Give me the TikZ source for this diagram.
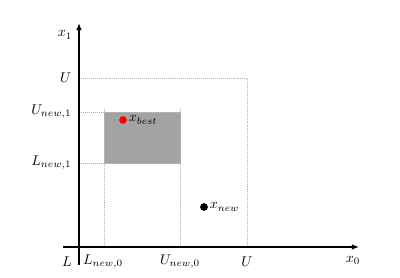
\documentclass[tikz,border=0pt]{standalone}
\usepackage{amsmath,amssymb}
\usepackage{xcolor}
\usetikzlibrary{arrows.meta,calc}
\definecolor{boxgray}{HTML}{A3A3A3}
\tikzset{
  axis/.style={-{Latex[length=5pt,width=4pt]},line width=1.1pt},
  guide/.style={densely dotted,gray!60,line width=0.4pt},
  lbl/.style={font=\normalsize,inner sep=1pt},
  pt/.style={circle,inner sep=0pt,minimum size=5.5pt},
}

\begin{document}
\begin{tikzpicture}[x=1cm,y=1cm]
\useasboundingbox (-1.975,-0.75) rectangle (8.025,6.175);
% corner points
\coordinate (O) at (0,0);
\coordinate (xs) at (-0.4,0);
\coordinate (xe) at (7.0,0);
\coordinate (ys) at (0,-0.45);
\coordinate (ye) at (0,5.6);

% outer box and box ticks
\draw[guide] (0,4.225) -- (4.2,4.225) -- (4.2,0);
\draw[guide] (0,3.375) -- (0.625,3.375);
\draw[guide] (0,2.1) -- (0.625,2.1);
\draw[guide] (0.625,3.45) -- (0.625,0);
\draw[guide] (2.525,3.45) -- (2.525,0);

% new box
\draw[gray!60,line width=0.4pt,fill=boxgray] (0.625,2.1) rectangle (2.525,3.375);

% axes
\draw[axis] (xs) -- (xe);
\draw[axis] (ys) -- (ye);

% points
\node[pt,fill=red] (best) at (1.1,3.175) {};
\node[pt,fill=black] (new) at (3.125,1.0) {};
\node[lbl,anchor=west] (bestlbl) at (best.east) {$x_{best}$};
\node[lbl,anchor=west] (newlbl) at (new.east) {$x_{new}$};

% axis labels
\node[lbl] (x1) at (-0.35,5.3) {$x_1$};
\node[lbl] (x0) at (6.85,-0.33) {$x_0$};
\node[lbl,anchor=east] (Uy) at (-0.15,4.225) {$U$};
\node[lbl,anchor=east] (Uny) at (-0.15,3.375) {$U_{new,1}$};
\node[lbl,anchor=east] (Lny) at (-0.15,2.1) {$L_{new,1}$};
\node[lbl] (L) at (-0.3,-0.375) {$L$};
\node[lbl] (Lnx) at (0.6,-0.375) {$L_{new,0}$};
\node[lbl] (Unx) at (2.525,-0.375) {$U_{new,0}$};
\node[lbl] (Ux) at (4.2,-0.375) {$U$};

\end{tikzpicture}
\end{document}
